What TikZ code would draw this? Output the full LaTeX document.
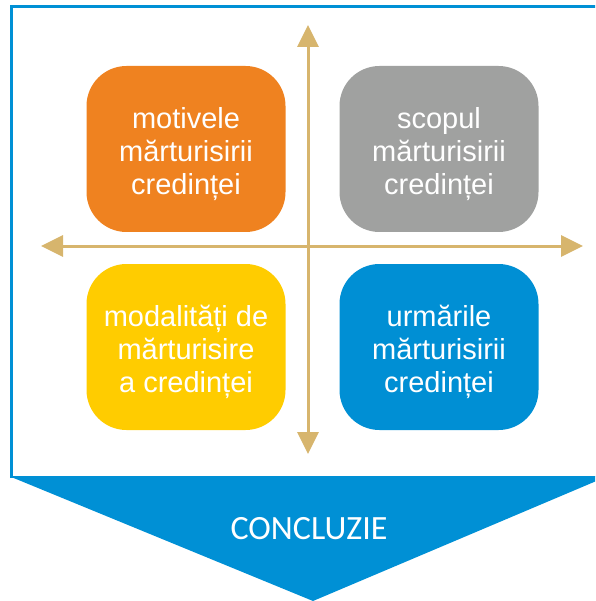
\documentclass[tikz,border=0pt]{standalone}
\usepackage{fontspec}
\setmainfont{Liberation Sans}
\newfontfamily\concfont{Carlito}
\usetikzlibrary{arrows.meta}
\definecolor{frameblue}{HTML}{0090D5}
\definecolor{boxorange}{HTML}{EF8220}
\definecolor{boxgray}{HTML}{A0A1A0}
\definecolor{boxyellow}{HTML}{FFCC00}
\definecolor{boxblue}{HTML}{008FD4}
\definecolor{axistan}{HTML}{D7B56D}
\tikzset{
  quad/.style={rounded corners=40pt, minimum width=199pt, minimum height=166pt,
    inner sep=0pt},
  quadtext/.style={text=white, align=center, inner sep=0pt, yshift=-5pt,
    font=\fontsize{29pt}{33pt}\selectfont},
  axis/.style={draw=axistan, line width=3pt,
    -{Triangle[length=22pt,width=21pt]}},
}
\begin{document}
\begin{tikzpicture}[x=1pt,y=-1pt]
\useasboundingbox (0,0) rectangle (595,601);
\clip (0,0) rectangle (595,601);
% frame
\draw[frameblue, line width=3pt] (11.5,478) -- (11.5,7) -- (600,7);
\draw[frameblue, line width=1pt] (11.5,476) -- (600,476);
% pentagon arrow
\fill[frameblue] (10,476.5) coordinate (pl) -- (607,476.5) coordinate (pr) -- (313,601) coordinate (pa) -- cycle;
\node[text=white, font=\concfont\fontsize{34pt}{40pt}\selectfont] (conc) at (309,529) {CONCLUZIE};
% boxes
\node[quad, fill=boxorange] (q1) at (186,149) {};
\node[quad, fill=boxgray] (q2) at (439,149) {};
\node[quad, fill=boxyellow] (q3) at (186,347) {};
\node[quad, fill=boxblue] (q4) at (439,347) {};
\node[quadtext] (t1) at (q1.center) {motivele\\mărturisirii\\credinței};
\node[quadtext] (t2) at (q2.center) {scopul\\mărturisirii\\credinței};
\node[quadtext] (t3) at (q3.center) {modalități de\\mărturisire\\a credinței};
\node[quadtext] (t4) at (q4.center) {urmările\\mărturisirii\\credinței};
% axes
\coordinate (c) at (308,246);
\coordinate (top) at (308,25);
\coordinate (bot) at (308,454);
\coordinate (lft) at (41,246);
\coordinate (rgt) at (583,246);
\draw[axis] (c) -- (top);
\draw[axis] (c) -- (bot);
\draw[axis] (c) -- (lft);
\draw[axis] (c) -- (rgt);
\end{tikzpicture}
\end{document}
